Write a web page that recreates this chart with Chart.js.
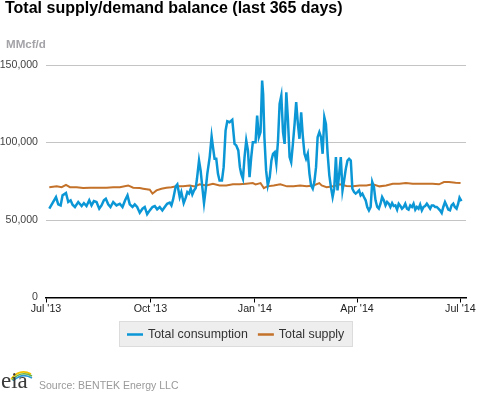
<!DOCTYPE html>
<html><head><meta charset="utf-8">
<script src="https://cdn.jsdelivr.net/npm/chart.js@4.4.1/dist/chart.umd.min.js"></script>
<style>
html,body{margin:0;padding:0;background:#fff;overflow:hidden}
#wrap{position:relative;width:477px;height:393px;font-family:"Liberation Sans",Arial,sans-serif}
#title{position:absolute;left:5px;top:0px;font-weight:bold;font-size:16px;line-height:16px;color:#000;white-space:nowrap}
#unit{position:absolute;left:6px;top:38px;font-weight:bold;font-size:11.6px;line-height:12px;color:#a3a3a8;white-space:nowrap}
#src{position:absolute;left:39px;top:380px;font-size:10.5px;line-height:11px;color:#999;white-space:nowrap}
#eia{position:absolute;left:1px;top:371px;font-family:"Liberation Serif","DejaVu Serif",serif;font-size:23px;line-height:20px;color:#3a3a3a}
#arcs{position:absolute;left:9px;top:367px}
canvas{position:absolute;left:0;top:0}
</style></head>
<body>
<div id="wrap">
<canvas id="c" width="477" height="393"></canvas>
<div id="title">Total supply/demand balance (last 365 days)</div>
<div id="unit">MMcf/d</div>
<svg id="arcs" width="24" height="14" viewBox="0 0 24 14">
<path d="M2,12 Q11,1 22,7" stroke="#f2c200" stroke-width="1.6" fill="none"/>
<path d="M3,13 Q12,3 23,9" stroke="#6db33f" stroke-width="1.6" fill="none"/>
<path d="M4,14 Q13,5 23,11" stroke="#2a97d6" stroke-width="1.6" fill="none"/>
</svg>
<div id="eia">eia</div>
<div id="src">Source: BENTEK Energy LLC</div>
</div>
<script>
// Days since 1 Jul 2013
const consumptionDays = [2.9,8.8,10.8,12.9,14.6,17.6,19.6,21.7,23.4,25.5,28.4,31.4,33.4,35.7,38.1,40.1,42.2,44.5,46.9,48.9,51.0,52.7,54.8,56.8,59.2,62.1,65.0,67.4,69.7,71.8,73.8,76.2,78.2,80.3,82.6,85.0,87.0,89.1,91.4,93.8,95.8,97.9,100.2,102.5,104.6,106.7,109.0,110.5,111.9,114.3,115.7,117.8,119.2,121.3,123.1,124.5,126.0,127.5,128.9,130.4,131.9,133.0,134.8,136.2,137.7,139.2,140.6,142.1,144.2,145.9,147.1,148.5,150.0,151.5,152.9,155.0,156.5,158.2,159.7,161.7,164.1,166.1,167.6,169.4,170.8,172.0,173.5,174.9,176.4,177.9,179.3,180.8,182.2,184.6,186.0,187.5,189.0,190.4,191.3,192.4,193.9,195.4,197.1,198.6,200.0,201.5,202.9,204.4,205.8,207.3,208.8,210.2,211.7,213.1,214.6,216.0,217.5,219.0,220.4,221.9,223.3,224.8,226.2,227.7,229.1,230.6,232.1,233.5,235.0,236.4,237.9,239.3,240.8,242.3,243.7,245.2,246.6,248.1,249.6,251.0,252.5,253.9,255.4,256.8,258.3,259.7,261.2,262.6,264.1,265.6,267.0,268.5,269.9,271.4,272.8,274.3,275.8,277.2,278.7,280.1,281.6,283.0,284.5,286.0,287.4,288.9,290.3,291.8,293.2,294.7,296.1,297.6,299.1,300.5,302.0,303.4,304.9,306.3,307.8,309.3,310.7,312.2,313.6,315.1,316.5,318.0,319.4,320.9,322.4,323.8,325.3,326.7,328.2,329.6,331.1,332.6,334.0,335.5,336.9,338.4,339.8,341.3,342.8,344.2,345.7,347.1,348.6,350.0,351.5,352.9,354.4,355.9,357.3,358.8,360.2,361.7,363.1,364.3,366.0];
const consumptionValues = [57300,64800,60100,59400,65900,67400,61600,62700,59900,58400,61600,59000,60900,59000,62700,59400,62200,61600,57300,59400,62700,63700,60100,58400,61600,59400,60500,58400,62700,65900,60100,58400,60100,58400,54700,57300,58400,53700,56200,58400,59000,56900,58400,56200,58400,60500,61200,59400,63100,71700,73000,64800,68000,60900,64400,68000,67000,70200,66500,69100,70600,76600,88400,82000,71200,60900,69100,79800,90600,103900,97000,89500,89500,79800,75500,75500,84100,107700,113700,113100,114600,99100,98100,94900,84100,79800,76600,90600,101300,94900,77700,90600,100200,100200,117400,103400,106700,139900,131300,103400,82000,72300,77700,88400,92700,93800,86300,101300,124900,130300,106700,99100,132400,115200,90600,87300,99100,112000,126000,112000,102400,119500,104500,92700,89500,92700,79800,72300,70200,74500,84100,103400,106700,103400,92700,116300,112000,92700,78800,71200,64800,70200,90600,69100,79800,90600,69100,75500,83000,88400,89500,88400,70200,68000,67000,68000,69100,65900,67000,64800,62700,58400,56200,58400,74500,71200,62700,58400,57300,60500,64800,62700,59400,61600,60500,58400,60900,59000,59400,56700,60500,59000,57300,58400,60500,57300,56700,59400,58400,60500,56700,58400,57300,59900,56200,58400,59000,60500,59000,57300,59400,59400,58400,58400,57300,56200,54500,58400,61600,59400,56700,56200,59400,60500,58400,57300,60500,64400,62200];
const supplyDays = [2.9,9.4,13.8,17.6,21.1,27.0,32.8,38.7,46.0,53.3,59.2,65.0,72.4,76.8,82.6,85.6,91.4,93.8,97.3,101.7,106.1,110.5,114.9,120.7,126.6,131.0,135.4,141.2,147.1,152.9,158.8,164.7,170.5,176.4,182.2,184.6,189.0,190.4,191.9,194.8,200.6,206.4,212.3,218.1,223.9,229.7,235.6,240.8,242.8,247.2,253.0,258.9,264.7,270.5,276.3,282.2,288.0,293.8,299.6,305.5,311.3,317.1,322.9,328.8,334.6,340.4,346.2,350.6,355.0,360.8,365.2];
const supplyValues = [71200,71700,71200,72700,71200,71200,70600,70800,70800,70800,71200,71200,72300,70800,70600,70200,69500,67000,69100,70200,70800,71200,71700,71700,72300,71700,73000,72300,73400,72300,72300,73000,73000,73400,73800,73000,73800,72300,70600,71700,72300,73000,71700,71700,72300,71700,72300,73800,72300,71200,71700,73000,71900,71700,72300,72300,73000,71700,72300,73400,73400,73800,73400,73400,73400,73400,73000,74500,74500,74000,73800];
const xTickDays = [0, 92, 184, 274, 365];
const xTickLabels = ["Jul '13", "Oct '13", "Jan '14", "Apr '14", "Jul '14"];
const yTicks = [0, 50000, 100000, 150000];

const seriesLabels = ['Total consumption', 'Total supply'];
const seriesColors = ['#0b96d6', '#c4722a'];

const boxLegend = {
  id: 'boxLegend',
  afterDraw(chart) {
    const ctx = chart.ctx;
    ctx.save();
    ctx.fillStyle = '#eeeeee';
    ctx.fillRect(119, 321, 234, 26);
    ctx.strokeStyle = '#dcdcdc';
    ctx.lineWidth = 1;
    ctx.strokeRect(119.5, 321.5, 233, 25);
    ctx.font = '12.4px "Liberation Sans", Arial, sans-serif';
    ctx.textBaseline = 'middle';
    let x = 127;
    chart.data.datasets.forEach(ds => {
      ctx.strokeStyle = ds.borderColor;
      ctx.lineWidth = 2.5;
      ctx.beginPath();
      ctx.moveTo(x, 334.5);
      ctx.lineTo(x + 16, 334.5);
      ctx.stroke();
      ctx.fillStyle = '#333';
      ctx.fillText(ds.label, x + 21, 334.5);
      x += 21 + ctx.measureText(ds.label).width + 10;
    });
    ctx.restore();
  }
};

new Chart(document.getElementById('c'), {
  type: 'line',
  data: {
    datasets: [
      { label: seriesLabels[0], data: consumptionDays.map((d, i) => ({ x: d, y: consumptionValues[i] })),
        borderColor: seriesColors[0], borderWidth: 2.5, pointRadius: 0, tension: 0, fill: false },
      { label: seriesLabels[1], data: supplyDays.map((d, i) => ({ x: d, y: supplyValues[i] })),
        borderColor: seriesColors[1], borderWidth: 2, pointRadius: 0, tension: 0, fill: false }
    ]
  },
  options: {
    responsive: false,
    animation: false,
    layout: { padding: { top: 65, left: 0, right: 11, bottom: 75.5 } },
    plugins: { legend: { display: false }, tooltip: { enabled: false }, title: { display: false } },
    scales: {
      x: {
        type: 'linear', min: 0, max: 370,
        afterBuildTicks: s => { s.ticks = xTickDays.map(v => ({ value: v })); },
        afterFit: s => { s.height = 20; },
        ticks: {
          callback: v => { const i = xTickDays.indexOf(v); return i >= 0 ? xTickLabels[i] : ''; },
          font: { family: '"Liberation Sans", Arial, sans-serif', size: 10.7 },
          color: '#222', padding: 0, maxRotation: 0, autoSkip: false
        },
        grid: { drawOnChartArea: false, tickLength: 5, color: '#000' },
        border: { color: '#000', width: 1.5 }
      },
      y: {
        min: 0, max: 150000,
        afterBuildTicks: s => { s.ticks = yTicks.map(v => ({ value: v })); },
        afterFit: s => { s.width = 46; },
        ticks: {
          callback: v => v.toLocaleString('en-US'),
          font: { family: '"Liberation Sans", Arial, sans-serif', size: 10.6 },
          color: '#444', padding: 8
        },
        grid: { drawTicks: false, color: '#c4c4c4' },
        border: { display: false }
      }
    }
  },
  plugins: [boxLegend]
});
</script>
</body></html>
